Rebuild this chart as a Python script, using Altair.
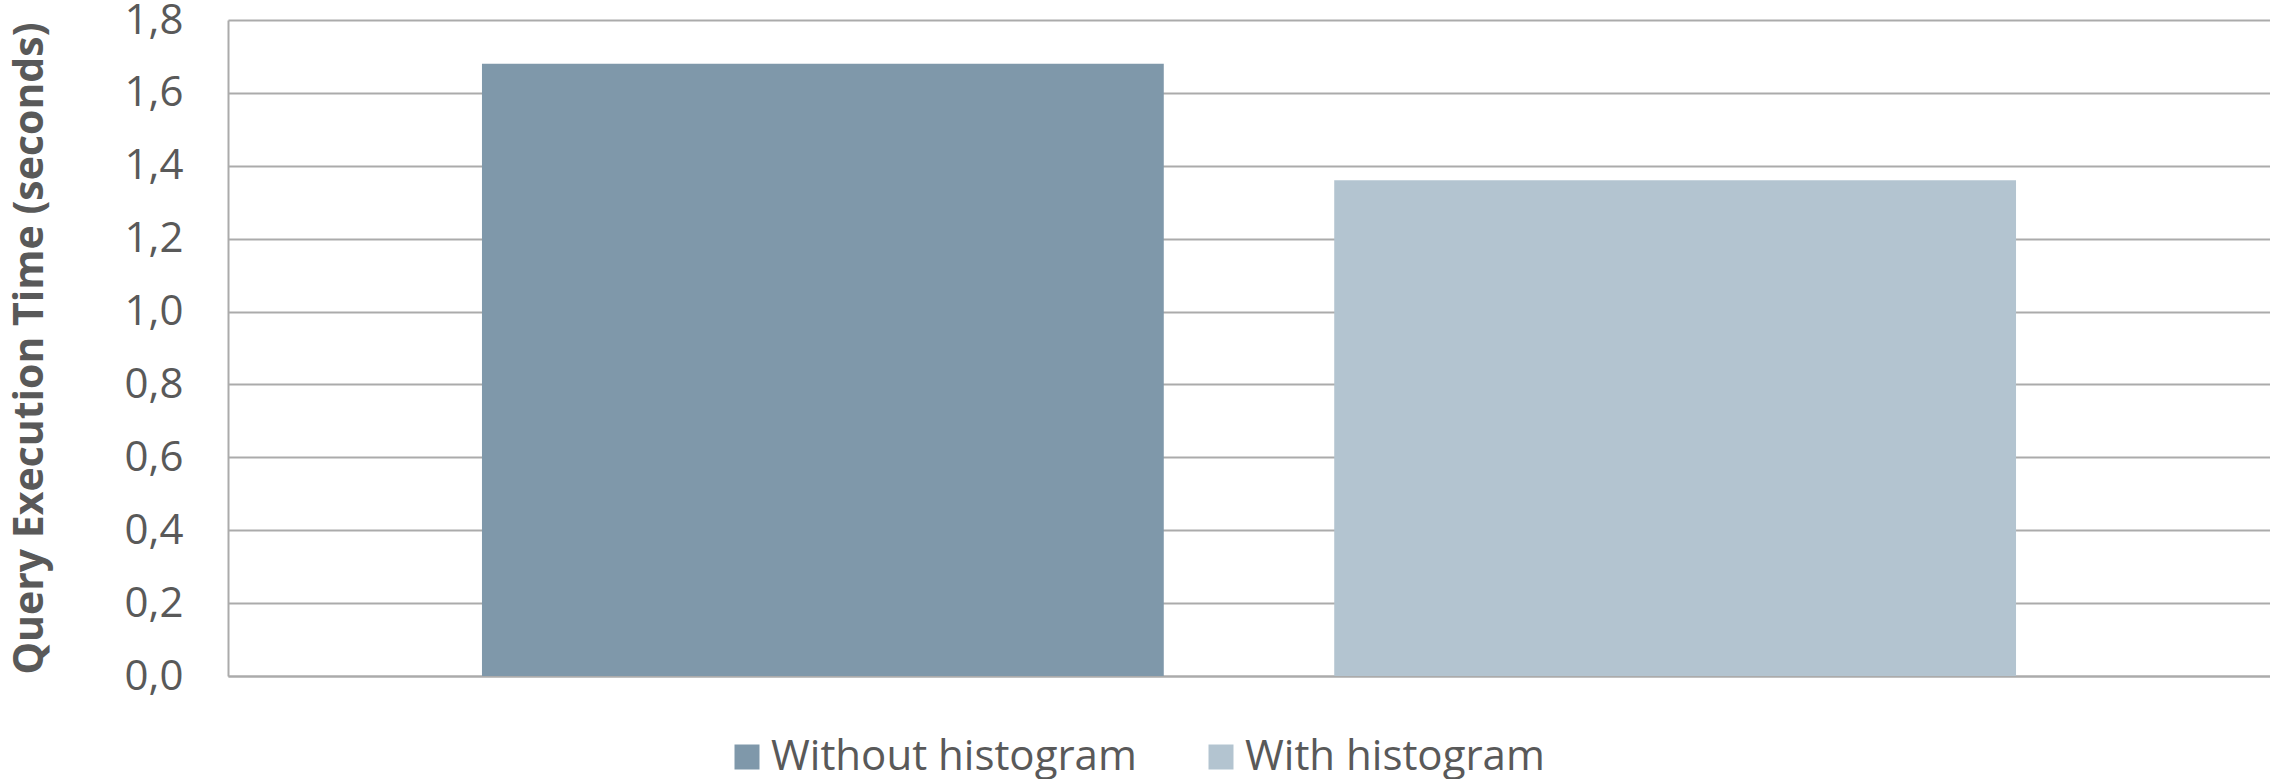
import altair as alt
import pandas as pd

# Query execution time, one group of two bars
series = ["Without histogram", "With histogram"]
seconds = [1.68, 1.36]
bar_colors = ["#7F98AA", "#B3C4D0"]
y_ticks = [0.0, 0.2, 0.4, 0.6, 0.8, 1.0, 1.2, 1.4, 1.6, 1.8]

df = pd.DataFrame({"series": series, "seconds": seconds})

FONT = "Open Sans"
TEXT = "#595959"
GRID = "#ABABAB"

chart = (
    alt.Chart(df)
    .mark_bar()
    .encode(
        x=alt.X(
            "series:N",
            sort=series,
            scale=alt.Scale(paddingInner=0.2, paddingOuter=0.298),
            axis=alt.Axis(
                labels=False, ticks=False, title=None, grid=False,
                domainColor=GRID, domainWidth=2,
            ),
        ),
        y=alt.Y(
            "seconds:Q",
            scale=alt.Scale(domain=[0, 1.8], nice=False, zero=True),
            axis=alt.Axis(
                values=y_ticks,
                labelExpr="replace(format(datum.value, '.1f'), '.', ',')",
                title="Query Execution Time (seconds)",
                titleFont=FONT, titleFontSize=41, titleFontWeight="bold",
                titleColor=TEXT, titleX=-198, titleY=328,
                titleAngle=270, titleAlign="center", titleBaseline="middle",
                labelFont=FONT, labelFontSize=42, labelColor=TEXT,
                labelPadding=45, ticks=False, tickSize=0,
                domainColor=GRID, domainWidth=2,
                grid=True, gridColor=GRID, gridWidth=2,
            ),
        ),
        color=alt.Color(
            "series:N",
            sort=series,
            scale=alt.Scale(domain=series, range=bar_colors),
            legend=alt.Legend(
                title=None, orient="none", legendX=498, legendY=716,
                direction="horizontal", symbolType="square", symbolSize=625,
                symbolStrokeWidth=0, labelFont=FONT, labelFontSize=42,
                labelColor=TEXT, labelOffset=3, labelLimit=0,
                columnPadding=63,
            ),
        ),
    )
    .properties(
        width=2042,
        height=656,
        padding={"left": 228, "top": 20, "right": 0, "bottom": 103},
        autosize=alt.AutoSizeParams(type="none"),
    )
    .configure_view(stroke=None)
)

chart.save("out.html", embed_options={"renderer": "svg", "actions": False})
